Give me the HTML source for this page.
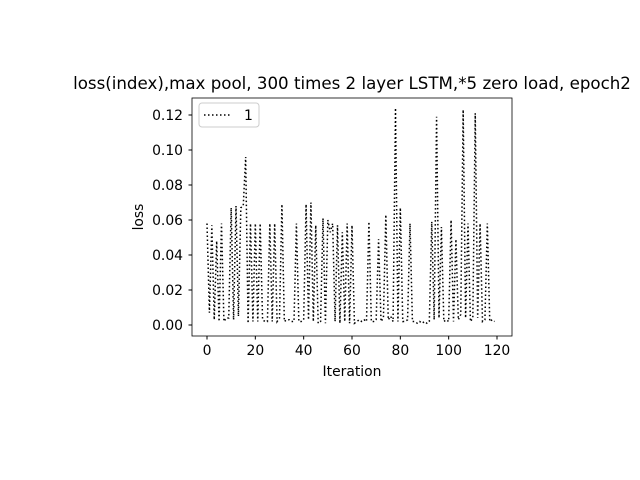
<!DOCTYPE html>
<html><head><meta charset="utf-8"><style>
body{margin:0;background:#fff;}
svg{display:block;font-family:"DejaVu Sans","Liberation Sans",sans-serif;}
</style></head><body>
<svg id="chart" width="640" height="480">
<rect width="640" height="480" fill="#fff"/>
<text x="352" y="89" font-size="16.67" text-anchor="middle">loss(index),max pool, 300 times 2 layer LSTM,*5 zero load, epoch2</text>
<g id="ticks"></g>
<path id="line" fill="none" stroke="#000" stroke-width="1.5" stroke-dasharray="1.5,2.5"/>
<rect x="192" y="98" width="320" height="238" fill="none" stroke="#000" stroke-width="0.8"/>
<g>
<rect x="199" y="103" width="60" height="24" rx="3" fill="#fff" stroke="#ccc"/>
<line x1="204" y1="115" x2="232" y2="115" stroke="#000" stroke-width="1.5" stroke-dasharray="1.5,2.5"/>
<text x="244" y="120" font-size="13.9">1</text>
</g>
<text x="352" y="376" font-size="13.9" text-anchor="middle">Iteration</text>
<text transform="translate(143,217) rotate(-90)" font-size="13.9" text-anchor="middle">loss</text>
</svg>
<script>
const losses=[0.058,0.007,0.057,0.003,0.048,0.002,0.058,0.002,0.004,0.004,0.067,0.003,0.068,0.005,0.067,0.068,0.096,0.001,0.058,0.002,0.058,0.002,0.058,0.003,0.002,0.002,0.058,0.002,0.058,0.002,0.004,0.069,0.002,0.003,0.003,0.002,0.002,0.058,0.002,0.002,0.003,0.069,0.003,0.070,0.002,0.057,0.001,0.002,0.061,0.001,0.060,0.053,0.058,0.002,0.057,0.001,0.053,0.002,0.058,0.001,0.057,0.001,0.002,0.003,0.002,0.003,0.002,0.059,0.002,0.002,0.003,0.049,0.002,0.004,0.063,0.003,0.005,0.002,0.124,0.002,0.067,0.002,0.002,0.003,0.058,0.002,0.002,0.001,0.002,0.001,0.002,0.001,0.002,0.059,0.003,0.119,0.004,0.056,0.002,0.003,0.002,0.060,0.002,0.049,0.003,0.006,0.123,0.004,0.058,0.002,0.004,0.121,0.004,0.058,0.002,0.003,0.058,0.002,0.003,0.002];
const xTicks=[0,20,40,60,80,100,120];
const yTicks=[0.00,0.02,0.04,0.06,0.08,0.10,0.12];
const xs=v=>207+v*(290/120);
const ys=v=>325-v*1750;
const NS='http://www.w3.org/2000/svg';
const g=document.getElementById('ticks');
xTicks.forEach(t=>{
 const l=document.createElementNS(NS,'line');
 l.setAttribute('x1',xs(t));l.setAttribute('x2',xs(t));l.setAttribute('y1',336);l.setAttribute('y2',339.5);l.setAttribute('stroke','#000');
 
 
 g.appendChild(l);
 const tx=document.createElementNS(NS,'text');
 tx.setAttribute('x',xs(t));tx.setAttribute('y',355);tx.setAttribute('font-size','13.9');tx.setAttribute('text-anchor','middle');
 tx.textContent=t;
 
 
 g.appendChild(tx);
});
yTicks.forEach(t=>{
 const l=document.createElementNS(NS,'line');
 l.setAttribute('x1',188.5);l.setAttribute('x2',192);l.setAttribute('y1',ys(t));l.setAttribute('y2',ys(t));l.setAttribute('stroke','#000');
 
 
 g.appendChild(l);
 const tx=document.createElementNS(NS,'text');
 tx.setAttribute('x',183);tx.setAttribute('y',ys(t)+5);tx.setAttribute('font-size','13.9');tx.setAttribute('text-anchor','end');
 tx.textContent=t.toFixed(2);
 
 
 g.appendChild(tx);
});
document.getElementById('line').setAttribute('d',losses.map((v,i)=>(i?'L':'M')+xs(i).toFixed(2)+','+ys(v).toFixed(2)).join(''));
</script>
</body></html>
